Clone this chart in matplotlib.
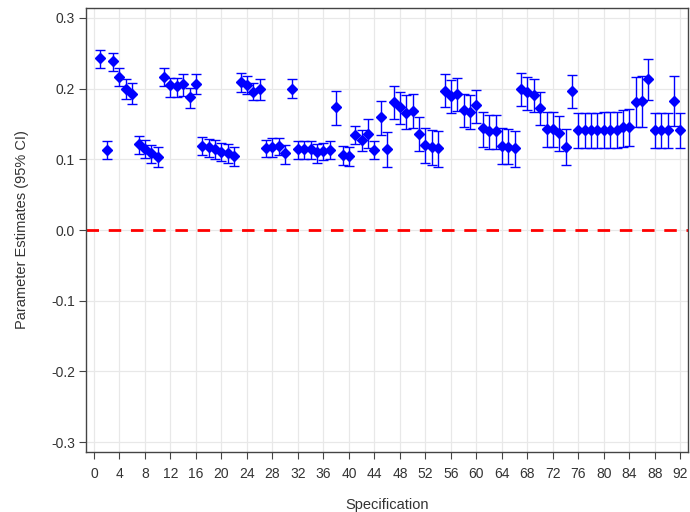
import matplotlib
matplotlib.use("Agg")
import matplotlib.pyplot as plt
import numpy as np

spec = list(range(1, 93))
estimate = [0.243, 0.113, 0.2395, 0.216, 0.200, 0.193, 0.121, 0.1145, 0.1085, 0.103,
            0.216, 0.2045, 0.204, 0.206, 0.1885, 0.207, 0.119, 0.117, 0.115, 0.111,
            0.1085, 0.105, 0.210, 0.205, 0.1957, 0.199, 0.1155, 0.117, 0.119, 0.1085,
            0.200, 0.114, 0.114, 0.114, 0.110, 0.112, 0.113, 0.1735, 0.1065, 0.104,
            0.1345, 0.127, 0.136, 0.113, 0.160, 0.114, 0.1815, 0.1735, 0.166, 0.169,
            0.136, 0.120, 0.118, 0.1165, 0.197, 0.1895, 0.193, 0.170, 0.167, 0.177,
            0.1438, 0.1405, 0.1405, 0.119, 0.118, 0.1165, 0.199, 0.1957, 0.191, 0.172,
            0.1424, 0.1424, 0.1377, 0.118, 0.197, 0.1414, 0.1414, 0.1414, 0.1414, 0.1414,
            0.1414, 0.1414, 0.1453, 0.1453, 0.1815, 0.1825, 0.213, 0.1414, 0.1414, 0.1414,
            0.183, 0.1414]
lower = [0.229, 0.100, 0.225, 0.203, 0.185, 0.178, 0.108, 0.102, 0.095, 0.089,
         0.204, 0.1885, 0.1885, 0.190, 0.173, 0.193, 0.106, 0.1037, 0.101, 0.097,
         0.095, 0.0905, 0.1957, 0.193, 0.184, 0.184, 0.103, 0.1037, 0.1056, 0.0933,
         0.186, 0.100, 0.100, 0.100, 0.095, 0.099, 0.100, 0.148, 0.0924, 0.0905,
         0.1216, 0.112, 0.1155, 0.100, 0.135, 0.089, 0.157, 0.1495, 0.1424, 0.1447,
         0.1117, 0.095, 0.092, 0.0896, 0.1735, 0.165, 0.169, 0.145, 0.1424, 0.152,
         0.117, 0.114, 0.114, 0.0933, 0.0933, 0.0887, 0.1754, 0.170, 0.167, 0.148,
         0.117, 0.117, 0.1117, 0.0924, 0.173, 0.1155, 0.1155, 0.1155, 0.1155, 0.1155,
         0.1155, 0.1155, 0.118, 0.119, 0.146, 0.146, 0.184, 0.1155, 0.1155, 0.1155,
         0.147, 0.1155]
upper = [0.255, 0.126, 0.251, 0.229, 0.213, 0.2075, 0.133, 0.127, 0.120, 0.117,
         0.229, 0.2145, 0.2145, 0.220, 0.201, 0.220, 0.132, 0.1287, 0.1273, 0.123,
         0.121, 0.118, 0.2225, 0.218, 0.2085, 0.213, 0.128, 0.1295, 0.1306, 0.120,
         0.213, 0.126, 0.126, 0.126, 0.1216, 0.1226, 0.126, 0.197, 0.119, 0.117,
         0.147, 0.1414, 0.1565, 0.126, 0.182, 0.139, 0.203, 0.1957, 0.191, 0.192,
         0.160, 0.1438, 0.1414, 0.1405, 0.220, 0.212, 0.2145, 0.193, 0.191, 0.198,
         0.167, 0.163, 0.163, 0.1438, 0.1424, 0.1405, 0.2216, 0.217, 0.213, 0.1957,
         0.167, 0.167, 0.1612, 0.143, 0.2197, 0.165, 0.165, 0.165, 0.165, 0.1665,
         0.1665, 0.1665, 0.170, 0.171, 0.217, 0.218, 0.2414, 0.165, 0.165, 0.165,
         0.218, 0.165]

x_ticks = list(range(0, 93, 4))
y_ticks = [-0.3, -0.2, -0.1, 0.0, 0.1, 0.2, 0.3]

plt.rcParams['font.family'] = ['Liberation Sans', 'DejaVu Sans']

fig = plt.figure(figsize=(6.9, 5.12), dpi=100)
ax = fig.add_axes([86/690, 1-452/512, (688-86)/690, (452-8)/512])

est = np.array(estimate)
lo = np.array(lower)
hi = np.array(upper)
yerr = np.vstack([est - lo, hi - est])

ax.axhline(0.0, color='#FF0000', lw=2.0, ls=(0, (4.5, 3.5)), zorder=2)
ax.errorbar(spec, est, yerr=yerr, fmt='D', color='#0000FF', ecolor='#0000FF',
            markersize=5.5, elinewidth=1.0, capsize=3.8, capthick=1.0, zorder=3)

ax.set_xlim(-1.25, 93.2)
ax.set_ylim(-0.314, 0.314)
ax.set_xticks(x_ticks)
ax.set_yticks(y_ticks)
ax.set_yticklabels([f"{v:.1f}" for v in y_ticks])
ax.grid(True, color='#E8E8E8', lw=0.9, zorder=0)
ax.set_axisbelow(True)
for s in ax.spines.values():
    s.set_color('#444444')
    s.set_linewidth(1.0)
ax.tick_params(axis='both', direction='out', length=5, width=0.8, color='#444444',
               labelsize=10, labelcolor='#333333', pad=3)
ax.tick_params(axis='x', pad=6)
ax.set_xlabel('Specification', fontsize=10.5, color='#333333', labelpad=12)
ax.set_ylabel('Parameter Estimates (95% CI)', fontsize=10.5, color='#333333', labelpad=16)

fig.savefig('out.png', dpi=100)
